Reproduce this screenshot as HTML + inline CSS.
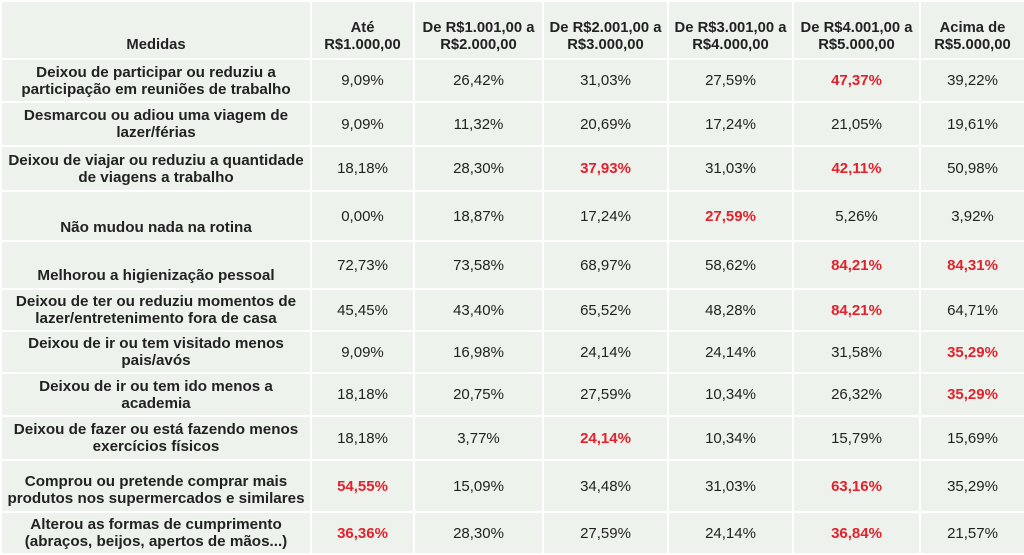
<!DOCTYPE html><html><head><meta charset="utf-8"><style>
body{margin:0;width:1024px;height:553px;background:#fff;overflow:hidden;font-family:"Liberation Sans",Arial,sans-serif;}
table{border-collapse:collapse;table-layout:fixed;width:1024px;}
td{background:#edf3ec;border:2px solid #fff;text-align:center;font-size:15px;color:#222;padding:0;line-height:17px;white-space:nowrap;}
td:first-child{font-weight:bold;font-size:15.2px;}
tr.h td{font-weight:bold;vertical-align:bottom;padding-bottom:4px;font-size:14.8px;}
.r{color:#e3202c;font-weight:bold;}
.b td:first-child{vertical-align:bottom;padding-bottom:4px;}
</style></head><body>
<table>
<colgroup><col style="width:310px"><col style="width:103px"><col style="width:129px"><col style="width:125px"><col style="width:125px"><col style="width:127px"><col style="width:105px"></colgroup>
<tr class="h" style="height:58px"><td>Medidas</td><td>Até<br>R$1.000,00</td><td>De R$1.001,00 a<br>R$2.000,00</td><td>De R$2.001,00 a<br>R$3.000,00</td><td>De R$3.001,00 a<br>R$4.000,00</td><td>De R$4.001,00 a<br>R$5.000,00</td><td>Acima de<br>R$5.000,00</td></tr>
<tr style="height:43px"><td>Deixou de participar ou reduziu a<br>participação em reuniões de trabalho</td><td>9,09%</td><td>26,42%</td><td>31,03%</td><td>27,59%</td><td class="r">47,37%</td><td>39,22%</td></tr>
<tr style="height:44px"><td>Desmarcou ou adiou uma viagem de<br>lazer/férias</td><td>9,09%</td><td>11,32%</td><td>20,69%</td><td>17,24%</td><td>21,05%</td><td>19,61%</td></tr>
<tr style="height:45px"><td>Deixou de viajar ou reduziu a quantidade<br>de viagens a trabalho</td><td>18,18%</td><td>28,30%</td><td class="r">37,93%</td><td>31,03%</td><td class="r">42,11%</td><td>50,98%</td></tr>
<tr class="b" style="height:50px"><td>Não mudou nada na rotina</td><td>0,00%</td><td>18,87%</td><td>17,24%</td><td class="r">27,59%</td><td>5,26%</td><td>3,92%</td></tr>
<tr class="b" style="height:48px"><td>Melhorou a higienização pessoal</td><td>72,73%</td><td>73,58%</td><td>68,97%</td><td>58,62%</td><td class="r">84,21%</td><td class="r">84,31%</td></tr>
<tr style="height:42px"><td>Deixou de ter ou reduziu momentos de<br>lazer/entretenimento fora de casa</td><td>45,45%</td><td>43,40%</td><td>65,52%</td><td>48,28%</td><td class="r">84,21%</td><td>64,71%</td></tr>
<tr style="height:42px"><td>Deixou de ir ou tem visitado menos<br>pais/avós</td><td>9,09%</td><td>16,98%</td><td>24,14%</td><td>24,14%</td><td>31,58%</td><td class="r">35,29%</td></tr>
<tr style="height:43px"><td>Deixou de ir ou tem ido menos a<br>academia</td><td>18,18%</td><td>20,75%</td><td>27,59%</td><td>10,34%</td><td>26,32%</td><td class="r">35,29%</td></tr>
<tr style="height:44px"><td>Deixou de fazer ou está fazendo menos<br>exercícios físicos</td><td>18,18%</td><td>3,77%</td><td class="r">24,14%</td><td>10,34%</td><td>15,79%</td><td>15,69%</td></tr>
<tr style="height:52px"><td style="vertical-align:bottom;padding-bottom:4px">Comprou ou pretende comprar mais<br>produtos nos supermercados e similares</td><td class="r">54,55%</td><td>15,09%</td><td>34,48%</td><td>31,03%</td><td class="r">63,16%</td><td>35,29%</td></tr>
<tr style="height:42px"><td>Alterou as formas de cumprimento<br>(abraços, beijos, apertos de mãos...)</td><td class="r">36,36%</td><td>28,30%</td><td>27,59%</td><td>24,14%</td><td class="r">36,84%</td><td>21,57%</td></tr>
</table>
</body></html>
